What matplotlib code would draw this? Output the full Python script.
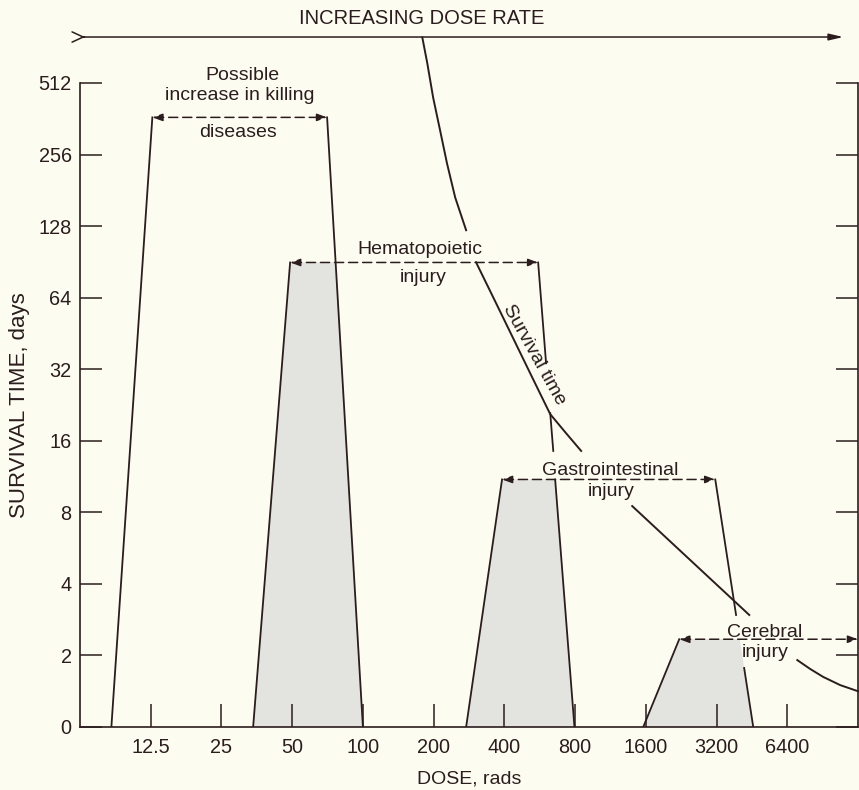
import numpy as np
import matplotlib
matplotlib.use('Agg')
import matplotlib.pyplot as plt

plt.rcParams['font.family'] = ['Liberation Sans', 'DejaVu Sans']

# axis ticks
dose_ticks = [12.5, 25, 50, 100, 200, 400, 800, 1600, 3200, 6400]
dose_labels = ['12.5', '25', '50', '100', '200', '400', '800', '1600', '3200', '6400']
day_ticks = [0, 2, 4, 8, 16, 32, 64, 128, 256, 512]
day_labels = [str(d) for d in day_ticks]

# plateaus: diseases, hematopoietic, gastrointestinal, cerebral
plateau_days = [367, 90, 11, 2.34]
plateau_start = [12.7, 49, 391, 2220]
plateau_end = [70.4, 557, 3160, 12800]
onset_base = [8.5, 34.1, 275, 1560]

# falling edges (nan = gap behind a label)
diseases_fall_dose = [70.4, 100]
diseases_fall_days = [367, 0]
hemato_fall_dose = [557, 602, np.nan, 627, 646, np.nan, 658, 795]
hemato_fall_days = [90, 33.9, np.nan, 20.9, 14.5, np.nan, 11, 0]
gi_fall_dose = [3160, 3875, np.nan, 4194, 4585]
gi_fall_days = [11, 2.96, np.nan, 1.65, 0]

# shaded areas
shade_left_base = [34.1, 275, 1560]
shade_left_top = [49, 391, 2220]
shade_right_top = [76.6, 658, 4017]
shade_right_base = [100, 795, 4585]
shade_days = [90, 11, 2.34]

# survival time curve
surv_dose = [179, 188, 199, 213, 228, 247, 275, np.nan,
             303, 362, 436, 520, 627, 733, 849, np.nan,
             1400, 4410, np.nan,
             7060, 8020, 9100, 10760, 12800]
surv_days = [796, 619, 445, 324, 235, 169, 123, np.nan,
             90.2, 63.0, 43.2, 30.2, 20.7, 17.2, 14.5, np.nan,
             8.5, 2.96, np.nan,
             1.87, 1.62, 1.40, 1.17, 1.0]

bg = '#fcfcf1'
ink = '#2b1d1d'
shade = '#e3e3df'
fs = 14


def fwd(y):
    y = np.asarray(y, dtype=float)
    return np.where(y >= 2, np.log2(np.maximum(y, 2)), y / 2)


def inv(v):
    v = np.asarray(v, dtype=float)
    return np.where(v >= 1, 2.0 ** v, v * 2)


fig = plt.figure(figsize=(8.59, 7.90), dpi=100, facecolor=bg)
ax = fig.add_axes([80/859, 63/790, 778/859, 644/790])
ax.set_facecolor(bg)

ax.set_xscale('log', base=2)
ax.set_xlim(6.25, 12800)
ax.set_xticks(dose_ticks, dose_labels)
ax.minorticks_off()
ax.set_yscale('function', functions=(fwd, inv))
ax.set_ylim(0, 512)
ax.set_yticks(day_ticks, day_labels)

for s in ['left', 'right', 'bottom']:
    ax.spines[s].set_color(ink)
    ax.spines[s].set_linewidth(1.2)
ax.spines['top'].set_visible(False)
ax.tick_params(axis='x', direction='in', length=16.5, width=1.1, pad=8,
               labelsize=14.3, colors=ink)
ax.tick_params(axis='y', direction='in', length=16, width=1.1, pad=6,
               labelsize=14.3, colors=ink, right=True)

ax.set_xlabel('DOSE, rads', fontsize=14, color=ink)
ax.xaxis.set_label_coords(0.5, -0.068)
ax.set_ylabel('SURVIVAL TIME, days', fontsize=16, color=ink)
ax.yaxis.set_label_coords(-0.064, 0.5)

# shaded syndromes
for i in range(3):
    ax.fill([shade_left_base[i], shade_left_top[i], shade_right_top[i], shade_right_base[i]],
            [0, shade_days[i], shade_days[i], 0], color=shade, lw=0, zorder=1)

# rising edges
for i in range(4):
    ax.plot([onset_base[i], plateau_start[i]], [0, plateau_days[i]],
            color=ink, lw=1.3, zorder=3)

# falling edges
ax.plot(diseases_fall_dose, diseases_fall_days, color=ink, lw=1.3, zorder=3)
ax.plot(hemato_fall_dose, hemato_fall_days, color=ink, lw=1.3, zorder=3)
ax.plot(gi_fall_dose, gi_fall_days, color=ink, lw=1.3, zorder=3)

# dashed plateau arrows
for i in range(4):
    ax.annotate('', xy=(plateau_end[i], plateau_days[i]),
                xytext=(plateau_start[i], plateau_days[i]),
                arrowprops=dict(arrowstyle='<|-|>,head_length=0.6,head_width=0.22',
                                linestyle=(0, (6, 3.2)), color=ink, lw=1.1,
                                shrinkA=0, shrinkB=0),
                annotation_clip=False, zorder=4)

# survival time curve
ax.plot(surv_dose, surv_days, color=ink, lw=1.4, clip_on=False, zorder=3)

# dose rate arrow on top
ax.annotate('', xy=(0.981, 1.0714), xytext=(0.0064, 1.0714), xycoords='axes fraction',
            arrowprops=dict(arrowstyle='-|>,head_length=0.85,head_width=0.2',
                            color=ink, lw=1.1, shrinkA=0, shrinkB=0),
            annotation_clip=False)
ax.annotate('', xy=(0.0064, 1.0714), xytext=(0.005, 1.0714), xycoords='axes fraction',
            arrowprops=dict(arrowstyle='->,head_length=0.8,head_width=0.37',
                            color=ink, lw=1.1, shrinkA=0, shrinkB=0),
            annotation_clip=False)
ax.text(0.4396, 1.0916, 'INCREASING DOSE RATE', transform=ax.transAxes,
        ha='center', va='baseline', fontsize=14.5, color=ink)

# labels
labels = [
    ('Possible', 0.2082, 1.0040),
    ('increase in killing', 0.2057, 0.9736),
    ('diseases', 0.2031, 0.9161),
    ('Hematopoietic', 0.437, 0.7345),
    ('injury', 0.4409, 0.691),
    ('Gastrointestinal', 0.6812, 0.3913),
    ('injury', 0.6832, 0.3587),
    ('Cerebral', 0.8805, 0.1398),
    ('injury', 0.881, 0.1087),
]
for txt, fx, fy in labels:
    ax.text(fx, fy, txt, transform=ax.transAxes, ha='center', va='baseline',
            fontsize=fs, color=ink, zorder=5)

ax.text(0.5835, 0.5776, 'Survival time', transform=ax.transAxes, ha='center',
        va='center', rotation=-61, rotation_mode='anchor', fontsize=fs, color=ink)

fig.savefig('out.png', dpi=100, facecolor=bg)
